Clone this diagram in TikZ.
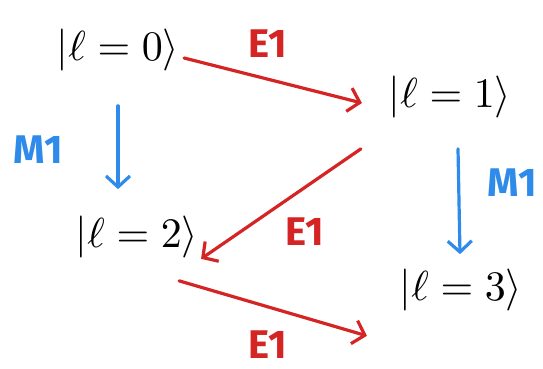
\documentclass[tikz,border=0pt]{standalone}
\usepackage{fontspec}
\setsansfont{Fira Sans}
\usetikzlibrary{arrows.meta,positioning}
\definecolor{eonered}{HTML}{D42424}
\definecolor{monebl}{HTML}{2F8BEA}
\tikzset{
  ket/.style={scale=4.2, inner sep=0pt},
  trans/.style={line width=3.2pt, line cap=round,
    -{Straight Barb[length=11pt,width=24pt,line width=3.2pt]}},
  eone/.style={trans, eonered},
  mone/.style={trans, monebl},
  lab/.style={font=\sffamily\bfseries\fontsize{40}{40}\selectfont, inner sep=1pt},
}
\begin{document}
\begin{tikzpicture}[x=1pt,y=-1pt]
    \useasboundingbox (0,0) rectangle (543,369);

    % the four states
    \node[ket] (l0) at (118,50) {$|\ell=0\rangle$};
    \node[ket] (l1) at (450,97) {$|\ell=1\rangle$};
    \node[ket] (l2) at (137,237) {$|\ell=2\rangle$};
    \node[ket] (l3) at (461,290) {$|\ell=3\rangle$};

    % E1 transitions (red)
    \draw[eone] ([shift={(4,8)}]l0.east) -- ([shift={(-26,6)}]l1.west);
    \node[lab, eonered] (e1a) at (268,44) {E1};

    \draw[eone] ([shift={(-27,30)}]l1.south west) -- ([shift={(2,0)}]l2.south east);
    \node[lab, eonered] (e1b) at (305,232) {E1};

    \draw[eone] ([shift={(-20,22)}]l2.south east) -- ([shift={(-32,24)}]l3.south west);
    \node[lab, eonered] (e1c) at (268,345) {E1};

    % M1 transitions (blue)
    \draw[mone] ([shift={(0,34)}]l0.south) -- ([shift={(-19,-26)}]l2.north);
    \node[lab, monebl] (m1a) at (38,150) {M1};

    \draw[mone] ([shift={(8,30)}]l1.south) -- ([shift={(-1,-14)}]l3.north);
    \node[lab, monebl] (m1b) at (512,183) {M1};
\end{tikzpicture}
\end{document}
